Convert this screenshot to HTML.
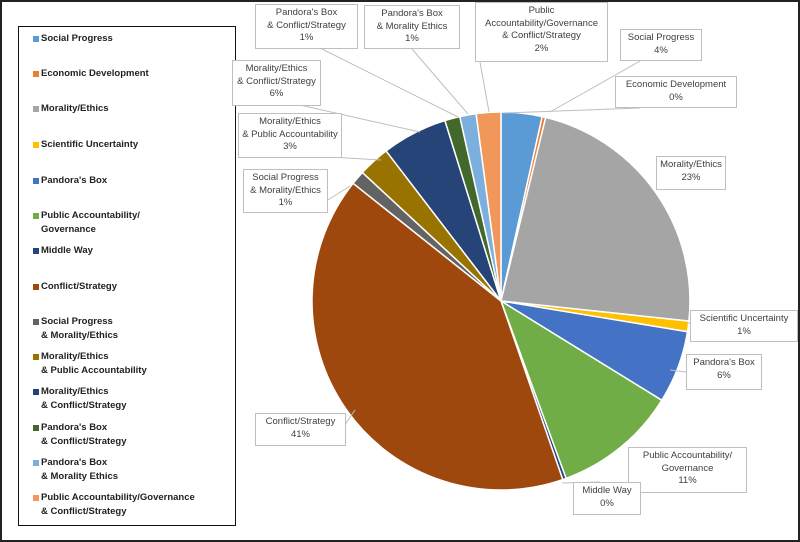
<!DOCTYPE html><html><head><meta charset="utf-8"><style>
html,body{margin:0;padding:0;background:#fff}
#c{position:relative;width:800px;height:542px;overflow:hidden;font-family:"Liberation Sans",Arial,sans-serif}
.fr{position:absolute;left:0;top:0;width:796px;height:538px;border:2px solid #222}
.lg{position:absolute;left:18px;top:26px;width:216px;height:498px;border:1.5px solid #111}
.li{position:absolute;left:22px;font-size:9.5px;font-weight:bold;color:#222;line-height:14px}
.li i{position:absolute;left:-8px;top:4px;width:6px;height:6px}
.lb{position:absolute;border:1px solid #bfbfbf;background:#fff;font-size:9.5px;color:#404040;text-align:center;line-height:12.5px;padding:2px 3px;box-sizing:border-box}
</style></head><body><div id="c">
<svg id="s" width="800" height="542" style="position:absolute;left:0;top:0"></svg>
<div class="fr"></div>
<div class="lg">
<div class="li" style="top:5px"><i style="background:#5B9BD5"></i>Social Progress</div>
<div class="li" style="top:40px"><i style="background:#ED7D31"></i>Economic Development</div>
<div class="li" style="top:75px"><i style="background:#A5A5A5"></i>Morality/Ethics</div>
<div class="li" style="top:111px"><i style="background:#FFC000"></i>Scientific Uncertainty</div>
<div class="li" style="top:147px"><i style="background:#4472C4"></i>Pandora's Box</div>
<div class="li" style="top:182px"><i style="background:#70AD47"></i>Public Accountability/<br>Governance</div>
<div class="li" style="top:217px"><i style="background:#264478"></i>Middle Way</div>
<div class="li" style="top:253px"><i style="background:#9E480E"></i>Conflict/Strategy</div>
<div class="li" style="top:288px"><i style="background:#636363"></i>Social Progress<br>&amp; Morality/Ethics</div>
<div class="li" style="top:323px"><i style="background:#997300"></i>Morality/Ethics<br>&amp; Public Accountability</div>
<div class="li" style="top:358px"><i style="background:#264478"></i>Morality/Ethics<br>&amp; Conflict/Strategy</div>
<div class="li" style="top:394px"><i style="background:#43682B"></i>Pandora's Box<br>&amp; Conflict/Strategy</div>
<div class="li" style="top:429px"><i style="background:#7CAFDD"></i>Pandora's Box<br>&amp; Morality Ethics</div>
<div class="li" style="top:464px"><i style="background:#F1975A"></i>Public Accountability/Governance<br>&amp; Conflict/Strategy</div>
</div>
<div class="lb" style="left:255px;top:4px;width:103px;height:45px">Pandora's Box<br>&amp; Conflict/Strategy<br>1%</div>
<div class="lb" style="left:364px;top:5px;width:96px;height:44px">Pandora's Box<br>&amp; Morality Ethics<br>1%</div>
<div class="lb" style="left:475px;top:2px;width:133px;height:60px">Public<br>Accountability/Governance<br>&amp; Conflict/Strategy<br>2%</div>
<div class="lb" style="left:620px;top:29px;width:82px;height:32px">Social Progress<br>4%</div>
<div class="lb" style="left:615px;top:76px;width:122px;height:32px">Economic Development<br>0%</div>
<div class="lb" style="left:656px;top:156px;width:70px;height:34px">Morality/Ethics<br>23%</div>
<div class="lb" style="left:690px;top:310px;width:108px;height:32px">Scientific Uncertainty<br>1%</div>
<div class="lb" style="left:686px;top:354px;width:76px;height:36px">Pandora's Box<br>6%</div>
<div class="lb" style="left:628px;top:447px;width:119px;height:46px">Public Accountability/<br>Governance<br>11%</div>
<div class="lb" style="left:573px;top:482px;width:68px;height:33px">Middle Way<br>0%</div>
<div class="lb" style="left:255px;top:413px;width:91px;height:33px">Conflict/Strategy<br>41%</div>
<div class="lb" style="left:243px;top:169px;width:85px;height:44px">Social Progress<br>&amp; Morality/Ethics<br>1%</div>
<div class="lb" style="left:238px;top:113px;width:104px;height:45px">Morality/Ethics<br>&amp; Public Accountability<br>3%</div>
<div class="lb" style="left:232px;top:60px;width:89px;height:46px">Morality/Ethics<br>&amp; Conflict/Strategy<br>6%</div>
</div>
<script>
var d=[[3.5,"#5B9BD5"],[0.3,"#ED7D31"],[22.9,"#A5A5A5"],[0.9,"#FFC000"],[6.2,"#4472C4"],[10.6,"#70AD47"],[0.3,"#264478"],[41.0,"#9E480E"],[1.2,"#636363"],[2.7,"#997300"],[5.6,"#264478"],[1.3,"#43682B"],[1.4,"#7CAFDD"],[2.1,"#F1975A"]];
var cx=501,cy=301,r=189,a=0,h="",tot=0;d.forEach(function(e){tot+=e[0]});
function pt(t,rr){var q=t/tot*2*Math.PI;return [cx+rr*Math.sin(q),cy-rr*Math.cos(q)];}
d.forEach(function(e){var p0=pt(a,r),p1=pt(a+e[0],r),lg=e[0]/tot>0.5?1:0;
h+='<path d="M'+cx+','+cy+'L'+p0[0].toFixed(1)+','+p0[1].toFixed(1)+'A'+r+','+r+' 0 '+lg+' 1 '+p1[0].toFixed(1)+','+p1[1].toFixed(1)+'Z" fill="'+e[1]+'" stroke="#fff" stroke-width="1.5"/>';a+=e[0];});
var L=[[550,112,640,61],[503,113,640,108],[661,189,700,185],[688,323,700,325],[670,370,686,372],[562,483,600,482],[340,432,355,410],[350,186,320,205],[381,160,330,157],[420,132,300,105],[458,117,320,48],[468,114,412,49],[489,112,480,62]];
L.forEach(function(l){h+='<line x1="'+l[0]+'" y1="'+l[1]+'" x2="'+l[2]+'" y2="'+l[3]+'" stroke="#bfbfbf" stroke-width="1"/>'});
document.getElementById("s").innerHTML=h;
</script>
</body></html>
